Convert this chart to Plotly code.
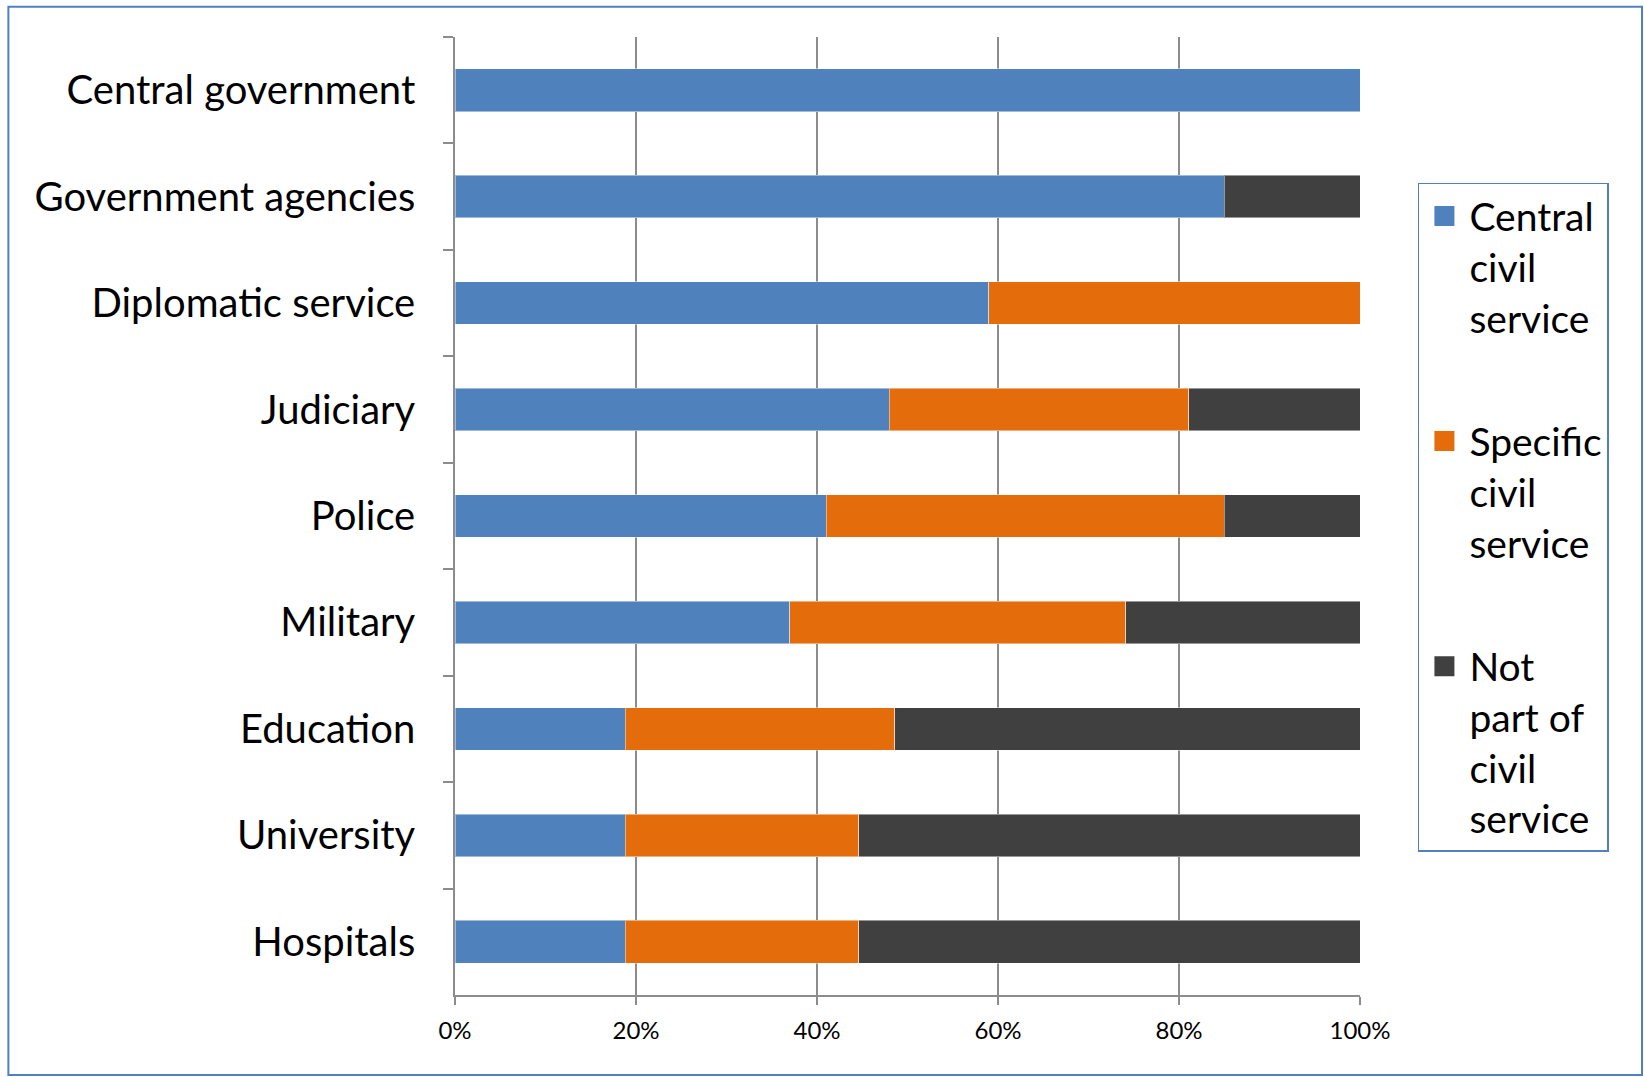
import plotly.graph_objects as go

categories = ["Central government", "Government agencies", "Diplomatic service",
              "Judiciary", "Police", "Military", "Education", "University", "Hospitals"]
central_civil = [100, 85.0, 59.0, 48.0, 41.0, 37.0, 18.8, 18.8, 18.8]
specific_civil = [0, 0, 41.0, 33.1, 44.0, 37.1, 29.8, 25.8, 25.8]
not_part = [0, 15.0, 0, 18.9, 15.0, 25.9, 51.4, 55.4, 55.4]

series_names = ["Central<br>civil<br>service", "Specific<br>civil<br>service",
                "Not<br>part of<br>civil<br>service"]
series_values = [central_civil, specific_civil, not_part]
colors = ["#4F81BD", "#E46C0A", "#404040"]

x_ticks = [0, 20, 40, 60, 80, 100]
x_tick_labels = ["0%", "20%", "40%", "60%", "80%", "100%"]

FONT = "Lato, 'Noto Sans', sans-serif"

fig = go.Figure()
for name, vals, col in zip(series_names, series_values, colors):
    fig.add_trace(go.Bar(
        y=categories, x=vals, orientation="h", name=name,
        marker=dict(color=col, line=dict(color="rgba(255,255,255,0.45)", width=1)),
        showlegend=False,
    ))
for i, (name, col) in enumerate(zip(series_names, colors)):
    fig.add_trace(go.Scatter(
        x=[None], y=[None], mode="markers", name=name,
        marker=dict(symbol="square", size=20, color=col, line=dict(color=col, width=4)),
        legendgroup=f"g{i}", showlegend=True,
    ))

fig.update_layout(
    width=1644, height=1077,
    barmode="stack", bargap=0.6,
    paper_bgcolor="white", plot_bgcolor="white",
    margin=dict(l=455, r=284, t=37, b=82),
    font=dict(family=FONT, color="black"),
    legend=dict(
        x=1.064, y=0.848, xanchor="left", yanchor="top",
        bordercolor="#4F81BD", borderwidth=1.5,
        font=dict(size=39, family=FONT, color="black"),
        valign="top", itemsizing="trace", itemwidth=40,
        traceorder="grouped", tracegroupgap=70,
    ),
    xaxis=dict(
        range=[0, 100], tickmode="array", tickvals=x_ticks, ticktext=x_tick_labels,
        showgrid=True, gridcolor="#8C8C8C", gridwidth=1.5,
        showline=True, linecolor="#8C8C8C", linewidth=1.5,
        ticks="outside", ticklen=8, tickcolor="#8C8C8C", tickwidth=1.5,
        tickfont=dict(size=24, family=FONT, color="black"),
        ticklabelstandoff=5, zeroline=False, fixedrange=True,
    ),
    yaxis=dict(
        autorange="reversed", showgrid=False,
        showline=True, linecolor="#8C8C8C", linewidth=1.5,
        ticks="outside", ticklen=10, tickcolor="#8C8C8C", tickwidth=1.5,
        tickson="boundaries",
        tickfont=dict(size=40, family=FONT, color="black"),
        ticklabelstandoff=30, fixedrange=True,
    ),
)

# outer chart border
fig.add_shape(type="rect", xref="paper", yref="paper",
              x0=-0.4935, x1=1.3116, y0=-0.0835, y1=1.0317,
              line=dict(color="#4F81BD", width=2), fillcolor="rgba(0,0,0,0)", layer="below")

fig.write_html("out.html", config={"displayModeBar": False},
               post_script="document.body.style.margin='0';document.body.style.overflow='hidden';")
